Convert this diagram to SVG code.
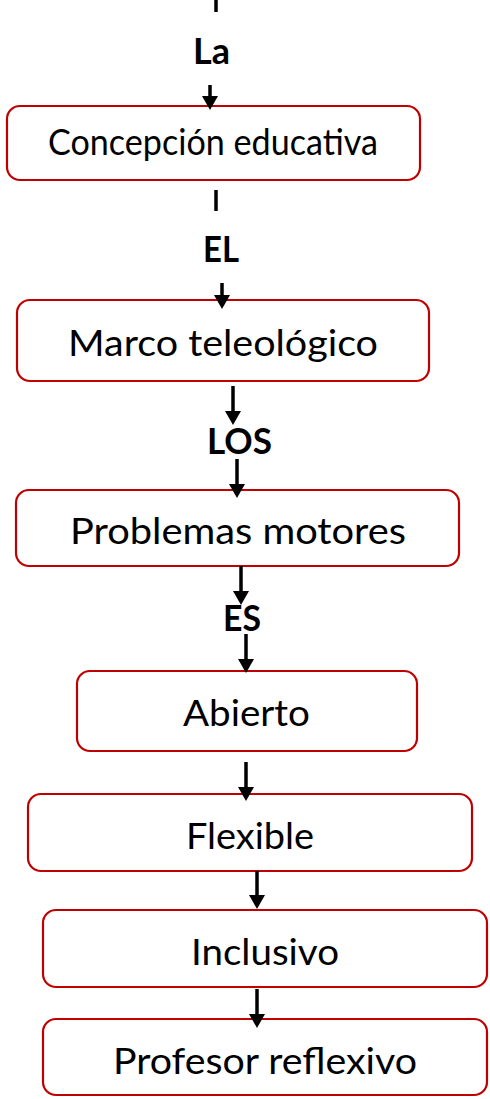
<svg xmlns="http://www.w3.org/2000/svg" width="490" height="1099" viewBox="0 0 490 1099">
<style>
.box{fill:#ffffff;stroke:#C00000;stroke-width:2.2}
.t{font-family:Lato,"Open Sans","Liberation Sans",sans-serif;font-size:37px;fill:#000;text-anchor:middle}
.lbl{font-family:Lato,"Open Sans","Liberation Sans",sans-serif;font-size:36px;font-weight:bold;fill:#000;text-anchor:middle}
.c{stroke:#000;stroke-width:3.5;fill:none}
</style>
<defs>
<marker id="ah" markerUnits="userSpaceOnUse" markerWidth="16" markerHeight="16" refX="0" refY="8" orient="auto" viewBox="0 0 14 16">
<path d="M0,0 L14,8 L0,16 z" fill="#000"/>
</marker>
</defs>
<g id="n1"><rect class="box" x="7" y="106" width="413" height="74" rx="13"/><text class="t" x="213" y="155" font-size="33" textLength="330" lengthAdjust="spacingAndGlyphs">Concepción educativa</text></g>
<g id="n2"><rect class="box" x="17" y="300" width="412" height="81" rx="13"/><text class="t" x="223" y="356" textLength="310" lengthAdjust="spacingAndGlyphs">Marco teleológico</text></g>
<g id="n3"><rect class="box" x="16" y="490" width="443" height="76" rx="13"/><text class="t" x="238" y="544" textLength="336" lengthAdjust="spacingAndGlyphs">Problemas motores</text></g>
<g id="n4"><rect class="box" x="77" y="671" width="340" height="80" rx="13"/><text class="t" x="246.5" y="726" textLength="127" lengthAdjust="spacingAndGlyphs">Abierto</text></g>
<g id="n5"><rect class="box" x="28" y="794" width="444" height="77" rx="13"/><text class="t" x="250" y="849" font-size="36" textLength="128" lengthAdjust="spacingAndGlyphs">Flexible</text></g>
<g id="n6"><rect class="box" x="43" y="910" width="444" height="77" rx="13"/><text class="t" x="265" y="965" font-size="36" textLength="148" lengthAdjust="spacingAndGlyphs">Inclusivo</text></g>
<g id="n7"><rect class="box" x="43" y="1019" width="444" height="76" rx="13"/><text class="t" x="265" y="1074" font-size="36" textLength="304" lengthAdjust="spacingAndGlyphs">Profesor reflexivo</text></g>
<g id="labels">
<text class="lbl" x="211.5" y="64" textLength="37" lengthAdjust="spacingAndGlyphs">La</text>
<text class="lbl" x="221" y="262" textLength="36" lengthAdjust="spacingAndGlyphs">EL</text>
<text class="lbl" x="239.5" y="454" textLength="65" lengthAdjust="spacingAndGlyphs">LOS</text>
<text class="lbl" x="242" y="631" textLength="38" lengthAdjust="spacingAndGlyphs">ES</text>
</g>
<g id="connectors">
<line class="c" x1="216" y1="0" x2="216" y2="12"/>
<line class="c" x1="210" y1="85" x2="210" y2="96" marker-end="url(#ah)"/>
<line class="c" x1="216" y1="190" x2="216" y2="211"/>
<line class="c" x1="222" y1="283" x2="222" y2="295" marker-end="url(#ah)"/>
<line class="c" x1="233" y1="386" x2="233" y2="411" marker-end="url(#ah)"/>
<line class="c" x1="237" y1="459" x2="237" y2="484" marker-end="url(#ah)"/>
<line class="c" x1="241" y1="566" x2="241" y2="591" marker-end="url(#ah)"/>
<line class="c" x1="246" y1="634" x2="246" y2="659" marker-end="url(#ah)"/>
<line class="c" x1="246" y1="762" x2="246" y2="787" marker-end="url(#ah)"/>
<line class="c" x1="257" y1="871" x2="257" y2="895" marker-end="url(#ah)"/>
<line class="c" x1="257" y1="989" x2="257" y2="1014" marker-end="url(#ah)"/>
</g>
</svg>
